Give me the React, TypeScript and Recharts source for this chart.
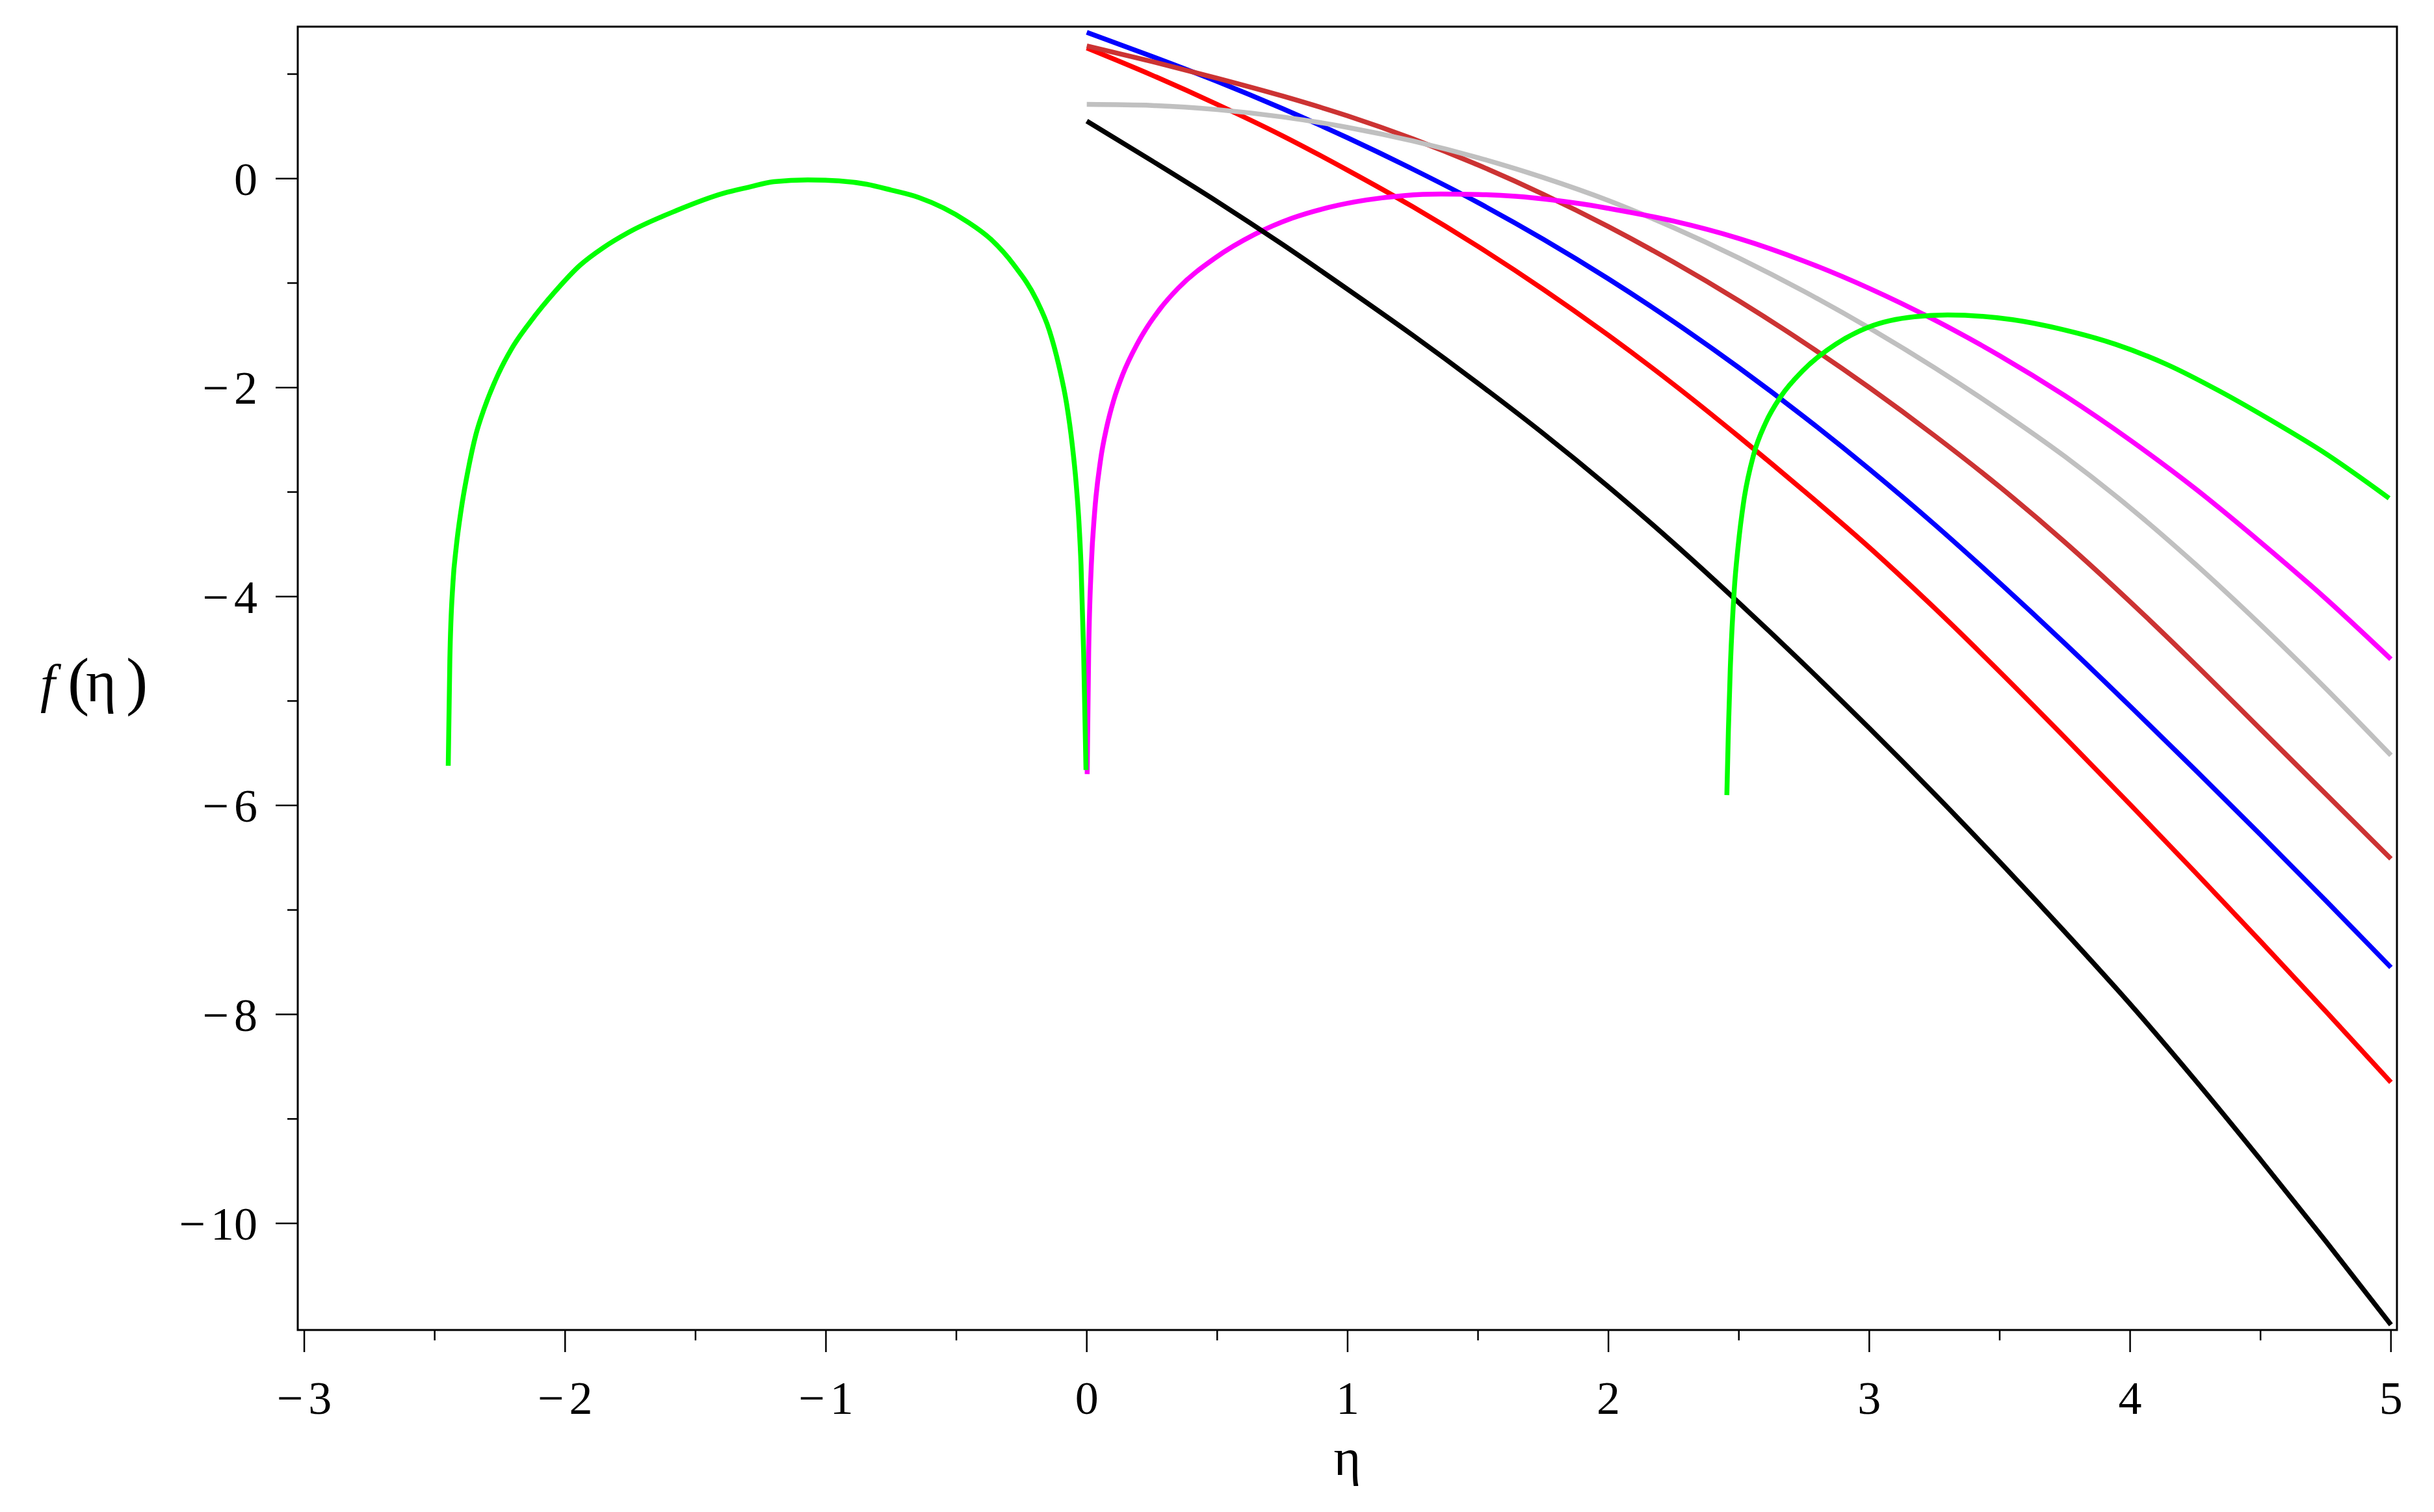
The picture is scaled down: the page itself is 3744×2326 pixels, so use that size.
import React from "react";
import { LineChart, Line, XAxis, YAxis, ReferenceArea } from "recharts";

// axis window (eta, f)
const X_MIN = -3.025;
const X_MAX = 5.023;
const Y_MIN = -11.02;
const Y_MAX = 1.454;

const X_TICKS = [-3, -2.5, -2, -1.5, -1, -0.5, 0, 0.5, 1, 1.5, 2, 2.5, 3, 3.5, 4, 4.5, 5];
const Y_TICKS = [1, 0, -1, -2, -3, -4, -5, -6, -7, -8, -9, -10];

// shared eta grid for the five decreasing solutions
const ETA = [0, 0.25, 0.5, 0.75, 1, 1.25, 1.5, 1.75, 2, 2.25, 2.5, 2.75, 3, 3.25, 3.5, 3.75, 4, 4.25, 4.5, 4.75, 5];

const BLACK_F = [0.55, 0.17, -0.22, -0.63, -1.06, -1.5, -1.96, -2.44, -2.95, -3.49, -4.06, -4.65, -5.26, -5.89, -6.54, -7.21, -7.9, -8.63, -9.39, -10.17, -10.97];
const RED_F = [1.25, 0.99, 0.71, 0.41, 0.08, -0.27, -0.65, -1.06, -1.5, -1.97, -2.47, -2.99, -3.53, -4.11, -4.72, -5.35, -5.99, -6.64, -7.3, -7.97, -8.65];
const BLUE_F = [1.4, 1.17, 0.93, 0.67, 0.39, 0.09, -0.23, -0.58, -0.96, -1.37, -1.81, -2.28, -2.78, -3.31, -3.87, -4.45, -5.05, -5.66, -6.28, -6.91, -7.55];
const BROWN_F = [1.27, 1.12, 0.96, 0.79, 0.6, 0.38, 0.13, -0.15, -0.46, -0.8, -1.17, -1.57, -2.0, -2.46, -2.95, -3.48, -4.05, -4.65, -5.27, -5.89, -6.51];
const GRAY_F = [0.71, 0.7, 0.66, 0.59, 0.49, 0.36, 0.2, 0.01, -0.21, -0.47, -0.76, -1.08, -1.43, -1.81, -2.22, -2.66, -3.15, -3.69, -4.27, -4.88, -5.52];

const MAGENTA_ETA = [0.0015, 0.0073, 0.0174, 0.0299, 0.0524, 0.0772, 0.1034, 0.137, 0.194, 0.28, 0.35, 0.492, 0.643, 0.786, 0.929, 1.072, 1.215, 1.358, 1.502, 1.645, 1.788, 1.932, 2.0, 2.25, 2.5, 2.75, 3.0, 3.25, 3.5, 3.75, 4.0, 4.25, 4.5, 4.75, 5.0];
const MAGENTA_F = [-5.7, -4.54, -3.7, -3.2, -2.7, -2.37, -2.12, -1.88, -1.58, -1.25, -1.05, -0.76, -0.535, -0.38, -0.275, -0.205, -0.163, -0.148, -0.152, -0.17, -0.205, -0.255, -0.285, -0.407, -0.573, -0.79, -1.051, -1.353, -1.695, -2.078, -2.503, -2.968, -3.48, -4.02, -4.6];

const GREEN_LEFT_ETA = [-2.448, -2.442, -2.43, -2.418, -2.398, -2.372, -2.342, -2.31, -2.256, -2.203, -2.133, -2.038, -1.943, -1.853, -1.757, -1.574, -1.391, -1.3, -1.2, -1.07, -0.95, -0.843, -0.75, -0.643, -0.459, -0.369, -0.279, -0.193, -0.144, -0.107, -0.077, -0.056, -0.041, -0.03, -0.022, -0.012, -0.003];
const GREEN_LEFT_F = [-5.62, -4.62, -3.87, -3.54, -3.16, -2.79, -2.45, -2.2, -1.87, -1.62, -1.37, -1.08, -0.83, -0.66, -0.515, -0.307, -0.14, -0.085, -0.03, -0.012, -0.022, -0.055, -0.11, -0.182, -0.411, -0.578, -0.828, -1.16, -1.45, -1.79, -2.16, -2.54, -2.91, -3.29, -3.7, -4.54, -5.66];

const GREEN_RIGHT_ETA = [2.454, 2.46, 2.467, 2.482, 2.498, 2.518, 2.557, 2.603, 2.661, 2.746, 2.871, 2.999, 3.173, 3.3, 3.549, 3.746, 3.944, 4.142, 4.34, 4.538, 4.736, 4.993];
const GREEN_RIGHT_F = [-5.9, -5.27, -4.7, -3.95, -3.5, -3.1, -2.64, -2.336, -2.085, -1.836, -1.586, -1.42, -1.322, -1.305, -1.35, -1.447, -1.586, -1.78, -2.03, -2.31, -2.61, -3.06];

const FONT = '"Liberation Serif", "Times New Roman", serif';

const toPoints = (xs: number[], ys: number[]) => xs.map((x, i) => ({ x, y: ys[i] }));

const series = [
  { key: "red", color: "#FF0000", data: toPoints(ETA, RED_F) },
  { key: "blue", color: "#0000FF", data: toPoints(ETA, BLUE_F) },
  { key: "brown", color: "#CC3333", data: toPoints(ETA, BROWN_F) },
  { key: "gray", color: "#C0C0C0", data: toPoints(ETA, GRAY_F) },
  { key: "magenta", color: "#FF00FF", data: toPoints(MAGENTA_ETA, MAGENTA_F) },
  { key: "black", color: "#000000", data: toPoints(ETA, BLACK_F) },
  { key: "greenLeft", color: "#00FF00", data: toPoints(GREEN_LEFT_ETA, GREEN_LEFT_F) },
  { key: "greenRight", color: "#00FF00", data: toPoints(GREEN_RIGHT_ETA, GREEN_RIGHT_F) },
];

function tickText(v: number) {
  if (v < 0) {
    return (
      <>
        <tspan>−</tspan>
        <tspan dx={8}>{Math.abs(v)}</tspan>
      </>
    );
  }
  return String(v);
}

const XTick = (props: any) => {
  const { x, y, payload } = props;
  const v = payload.value as number;
  const major = Number.isInteger(v);
  return (
    <g>
      <line x1={x} y1={y} x2={x} y2={y + (major ? 34 : 16)} stroke="#000" strokeWidth={2.5} />
      {major && (
        <text x={x} y={y + 129} textAnchor="middle" fontFamily={FONT} fontSize={72} fill="#000">
          {tickText(v)}
        </text>
      )}
    </g>
  );
};

const YTick = (props: any) => {
  const { x, y, payload } = props;
  const v = payload.value as number;
  const major = v % 2 === 0;
  return (
    <g>
      <line x1={x} y1={y} x2={x - (major ? 34 : 16)} y2={y} stroke="#000" strokeWidth={2.5} />
      {major && (
        <text x={x - 62} y={y + 25} textAnchor="end" fontFamily={FONT} fontSize={72} fill="#000">
          {tickText(v)}
        </text>
      )}
    </g>
  );
};

const YLabel = () => (
  <text fontFamily={FONT} fill="#000">
    <tspan x={62} y={1079} fontSize={82} fontStyle="italic">f</tspan>
    <tspan x={104} y={1081} fontSize={100}>(</tspan>
    <tspan x={132} y={1079} fontSize={90}>η</tspan>
    <tspan x={194} y={1081} fontSize={100}>)</tspan>
  </text>
);

export default function App() {
  return (
    <div style={{ position: "absolute", left: 0, top: 0, background: "#fff" }}>
      <LineChart
        width={3744}
        height={2326}
        margin={{ top: 41, right: 57, bottom: 40, left: 158 }}
      >
        <XAxis
          dataKey="x"
          type="number"
          domain={[X_MIN, X_MAX]}
          allowDataOverflow
          ticks={X_TICKS}
          interval={0}
          height={240}
          tickSize={0}
          tickMargin={0}
          tickLine={false}
          axisLine={false}
          tick={<XTick />}
          label={{
            value: "η",
            position: "insideBottom",
            offset: 17,
            style: { fontFamily: FONT, fontSize: 80, fill: "#000" },
          }}
        />
        <YAxis
          dataKey="y"
          type="number"
          domain={[Y_MIN, Y_MAX]}
          allowDataOverflow
          ticks={Y_TICKS}
          interval={0}
          width={300}
          tickSize={0}
          tickMargin={0}
          tickLine={false}
          axisLine={false}
          tick={<YTick />}
          label={{ content: () => <YLabel /> }}
        />
        <ReferenceArea
          x1={X_MIN}
          x2={X_MAX}
          y1={Y_MIN}
          y2={Y_MAX}
          fill="none"
          fillOpacity={0}
          stroke="#000"
          strokeWidth={3}
        />
        {series.map((s) => (
          <Line
            key={s.key}
            data={s.data}
            dataKey="y"
            type="monotone"
            stroke={s.color}
            strokeWidth={7.5}
            dot={false}
            activeDot={false}
            isAnimationActive={false}
          />
        ))}
      </LineChart>
    </div>
  );
}
